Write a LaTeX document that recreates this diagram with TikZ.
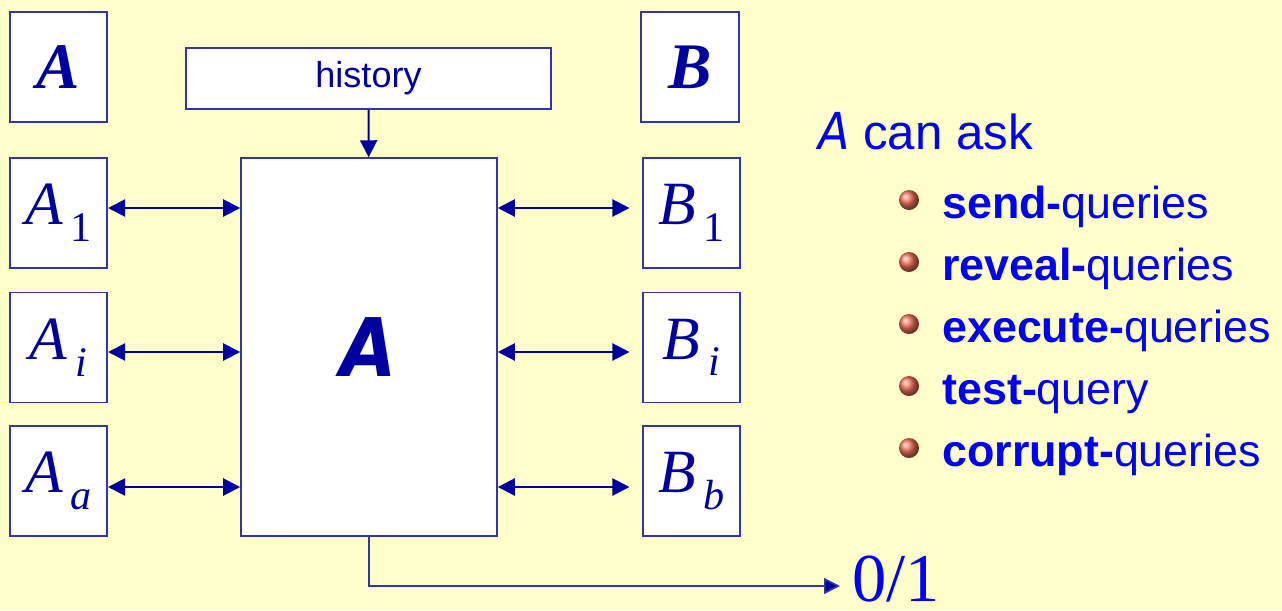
\documentclass[tikz,border=0pt]{standalone}
\usepackage{fontspec}
\setmainfont{Liberation Serif}
\setsansfont{Liberation Sans}
\newfontfamily\handfont{DejaVu Sans Condensed}
\usetikzlibrary{arrows.meta}
\definecolor{paper}{HTML}{FFFFCC}
\definecolor{edgeblue}{HTML}{3535AA}
\definecolor{navy}{HTML}{0000A0}
\definecolor{ink}{HTML}{0000FF}
\definecolor{bead}{RGB}{240,110,85}
\newcommand\fs[1]{\fontsize{#1}{#1}\selectfont}
% letter with a lowered index, as in the party boxes
\newcommand\party[2]{{\fs{35}\itshape #1}\kern4.5pt\raisebox{-9.5pt}{\fs{24}#2}}
\tikzset{
  box/.style={draw=edgeblue, fill=white, line width=0.9pt, inner sep=0pt,
    minimum width=1.95cm, minimum height=2.2cm, text=navy},
  tip/.tip={Triangle[length=0.34cm,width=0.34cm]},
  link/.style={navy, line width=1.2pt, tip-tip},
  feed/.style={edgeblue, line width=0.9pt, -{Triangle[length=0.32cm,width=0.32cm,fill=navy]}},
  ballpt/.style={circle, inner sep=0pt, minimum size=0.4cm, shading=ball, ball color=bead},
}
\begin{document}
\begin{tikzpicture}[x=0.02cm,y=-0.02cm]
\fill[paper] (0,0) rectangle (1282,610);
\useasboundingbox (0,0) rectangle (1282,610);

% the two sides
\node[box] (A) at (58.5,67) {\fs{37}\bfseries\itshape A};
\node[box] (B) at (690,67) {\fs{37}\bfseries\itshape B};
\node[box] (A1) at (58.5,213) {\party{A}{1}};
\node[box] (Ai) at (58.5,347.5) {\party{A}{\textit{i}}};
\node[box] (Aa) at (58.5,481) {\party{A}{\textit{a}}};
\node[box] (B1) at (691.5,213) {\party{B}{1}};
\node[box] (Bi) at (691.5,347.5) {\party{B}{\textit{i}}};
\node[box] (Bb) at (691.5,481) {\party{B}{\textit{b}}};

% adversary and its history
\node[box, minimum width=5.12cm, minimum height=7.56cm] (adv) at (369,347)
  {\fs{46}\handfont\bfseries\itshape A};
\node[box, minimum width=7.3cm, minimum height=1.22cm] (hist) at (368.5,78.5)
  {\raisebox{-2pt}{\sffamily\fs{20.5}history}};
\draw[link, {}-tip] (hist) -- (adv);

% query lines
\coordinate (r1) at (0,208);
\coordinate (r2) at (0,352);
\coordinate (r3) at (0,487);
\draw[link] (A1.east |- r1) -- (adv.west |- r1);
\draw[link] (Ai.east |- r2) -- (adv.west |- r2);
\draw[link] (Aa.east |- r3) -- (adv.west |- r3);
\draw[link, shorten >=0.25cm] (adv.east |- r1) -- (B1.west |- r1);
\draw[link, shorten >=0.25cm] (adv.east |- r2) -- (Bi.west |- r2);
\draw[link, shorten >=0.25cm] (adv.east |- r3) -- (Bb.west |- r3);

% output bit
\coordinate (out) at (0,586);
\node[anchor=base west, inner sep=0pt, text=ink] (res) at (852,601) {\fs{39}0/1};
\draw[feed, shorten >=0.24cm] (adv.south) |- (res.west |- out);

% what the adversary may do
\node[anchor=base west, inner sep=0pt, text=ink] (ask) at (818,149)
  {\sffamily\fs{28}{\fs{29}\handfont\itshape A}\ can ask};
\foreach \op/\kind [count=\k] in {send/queries, reveal/queries, execute/queries,
    test/query, corrupt/queries}{
  \node[ballpt] (dot\k) at (909,{200+62*(\k-1)}) {};
  \node[anchor=base west, inner sep=0pt, text=ink] (op\k) at (942,{218+62*(\k-1)})
    {\sffamily\fs{25.5}\textbf{\op-}\kind};
}
\end{tikzpicture}
\end{document}
